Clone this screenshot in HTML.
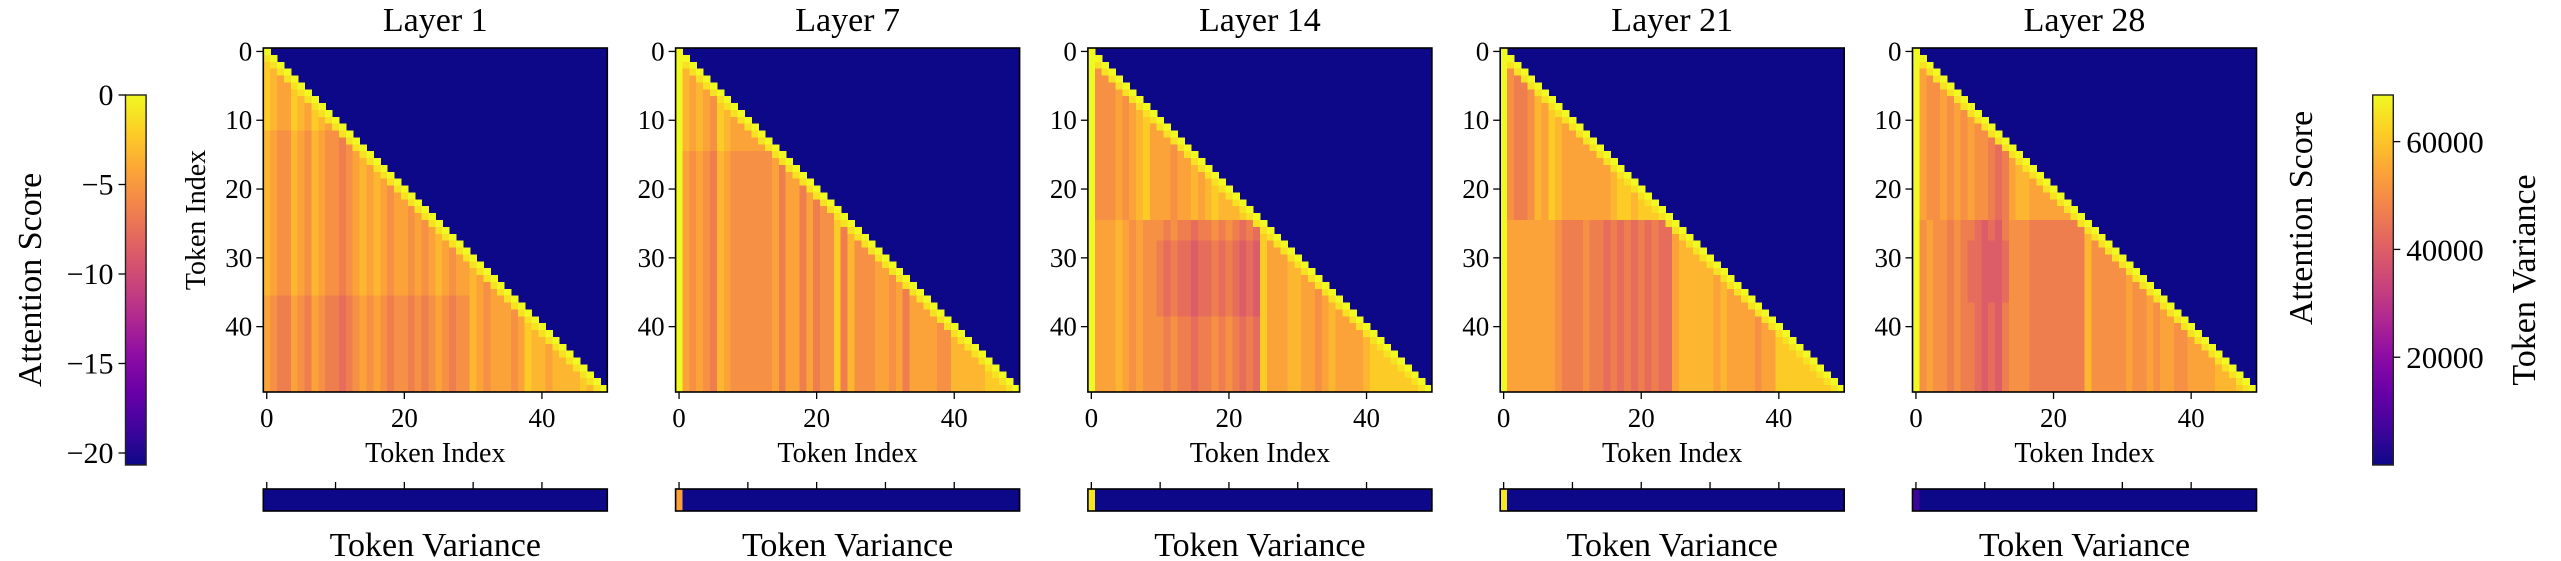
<!DOCTYPE html>
<html><head><meta charset="utf-8"><style>
html,body{margin:0;padding:0;background:#fff;}
svg{display:block;font-family:"Liberation Serif",serif;}
</style></head><body>
<svg id="fig" width="2561" height="561" viewBox="0 0 2561 561" xmlns="http://www.w3.org/2000/svg"></svg>
<script>
// ---- data ----
const layerTitles = ["Layer 1","Layer 7","Layer 14","Layer 21","Layer 28"];
const attnTicks = [0,-5,-10,-15,-20];
const varTicks = [20000,40000,60000];
const tokenTicksY = [0,10,20,30,40];
const tokenTicksX = [0,20,40];
const attnMin = -20.67, attnMax = 0;
const varMin = 0, varMax = 68650;
const levelStep = 1.1; // attention score per digit level (value = -level*step)
const attnRows1 = ["0","10","210","2310","23410","234410","2344210","23442310","234423410","2344234210","23442342310","234423423410","3455345345510","34553453455610","345534534556510","3455345345565410","34553453455654310","345534534556543410","3455345345565434310","34553453455654343410","345534534556543434510","3455345345565434345410","34553453455654343454410","345534534556543434544510","3455345345565434345445410","34553453455654343454454510","345534534556543434544545410","3455345345565434345445454310","34553453455654343454454543410","345534534556543434544545434510","3455345345565434345445454345410","34553453455654343454454543454410","345534534556543434544545434544310","3455345345565434345445454345443410","34553453455654343454454543454434510","345534534556543434544545434544345410","4566456456676545456556565456553454410","45664564566765454565565654565534544410","456645645667654545655656545655345444510","4566456456676545456556565456553454445410","45664564566765454565565654565534544454210","456645645667654545655656545655345444542310","4566456456676545456556565456553454445423310","45664564566765454565565654565534544454233410","456645645667654545655656545655345444542334310","4566456456676545456556565456553454445423343310","45664564566765454565565654565534544454233433310","456645645667654545655656545655345444542334333310","4566456456676545456556565456553454445423343333210","45664564566765454565565654565534544454233433332310"];
const attnRows7 = ["0","00","010","0310","03410","034310","0343410","03434510","034345210","0343452310","03434523410","034345234410","0343452344410","03434523444410","034345234444410","0454563455555510","04545634555555410","045456345555554610","0454563455555546410","04545634555555464410","045456345555554644610","0454563455555546446410","04545634555555464464610","045456345555554644646510","0454563455555546446465510","04545634555555464464655210","045456345555554644646552610","0454563455555546446465526310","04545634555555464464655263510","045456345555554644646552635510","0454563455555546446465526355510","04545634555555464464655263555410","045456345555554644646552635554410","0454563455555546446465526355544510","04545634555555464464655263555445410","045456345555554644646552635554454610","0454563455555546446465526355544546410","04545634555555464464655263555445464410","045456345555554644646552635554454644410","0454563455555546446465526355544546444410","04545634555555464464655263555445464444510","045456345555554644646552635554454644445510","0454563455555546446465526355544546444455310","04545634555555464464655263555445464444553310","045456345555554644646552635554454644445533310","0454563455555546446465526355544546444455333310","04545634555555464464655263555445464444553333310","045456345555554644646552635554454644445533333210","0454563455555546446465526355544546444455333332210","04545634555555464464655263555445464444553333322210"];
const attnRows14 = ["0","00","010","0510","05510","055510","0555410","05554510","055545410","0555454310","05554543210","055545432410","0555454324410","05554543244410","055545432444510","0555454324445410","05554543244454410","055545432444544310","0555454324445443410","05554543244454434310","055545432444544343210","0555454324445443432310","05554543244454434323310","055545432444544343233310","0555454324445443432333210","04443454555656676656567610","044434545556566766565676710","0444345455565667665656767210","04443454556767787767678782410","044434545567677877676787824410","0444345455676778776767878244410","04443454556767787767678782444310","044434545567677877676787824443310","0444345455676778776767878244433410","04443454556767787767678782444334410","044434545567677877676787824443344510","0444345455676778776767878244433445410","04443454556767787767678782444334454310","044434545567677877676787824443344543410","0444345455565667665656767244433445434410","04443454555656676656567672444334454344410","044434545556566766565676724443344543444410","0444345455565667665656767244433445434444310","04443454555656676656567672444334454344443210","044434545556566766565676724443344543444432210","0444345455565667665656767244433445434444322210","04443454555656676656567672444334454344443222210","044434545556566766565676724443344543444432222210","0444345455565667665656767244433445434444322222210","04443454555656676656567672444334454344443222222210"];
const attnRows21 = ["0","00","010","0510","05610","056610","0566510","05665310","056653410","0566534210","05665342310","056653423410","0566534234410","05665342344410","056653423444410","0566534234444410","05665342344444410","056653423444444410","0566534234444444310","05665342344444443210","056653423444444432210","0566534234444444322310","05665342344444443223210","056653423444444432232210","0566534234444444322322210","04444444566656676767676710","044444445666566767676767710","0444444456665667676767677410","04444444566656676767676774310","044444445666566767676767743310","0444444456665667676767677433310","04444444566656676767676774333310","044444445666566767676767743333310","0444444456665667676767677433333410","04444444566656676767676774333334310","044444445666566767676767743333343410","0444444456665667676767677433333434410","04444444566656676767676774333334344410","044444445666566767676767743333343444410","0444444456665667676767677433333434444510","04444444566656676767676774333334344445410","044444445666566767676767743333343444454410","0444444456665667676767677433333434444544210","04444444566656676767676774333334344445442210","044444445666566767676767743333343444454422210","0444444456665667676767677433333434444544222210","04444444566656676767676774333334344445442222210","044444445666566767676767743333343444454422222210","0444444456665667676767677433333434444544222222210","04444444566656676767676774333334344445442222222210"];
const attnRows28 = ["0","00","010","0410","04510","045510","0455410","04554510","045545410","0455454510","04554545410","045545454510","0455454545510","04554545455610","045545454556710","0455454545567610","04554545455676410","045545454556764310","0455454545567643310","04554545455676433410","045545454556764334410","0455454545567643344410","04554545455676433444410","045545454556764334444410","0455454545567643344444410","05455656678786555666666610","054556566787865556666666610","0545565667878655566666666310","05455656778887555666666663510","054556567788875556666666635510","0545565677888755566666666355510","05455656778887555666666663555510","054556567788875556666666635555510","0545565677888755566666666355555410","05455656778887555666666663555554510","054556567788875556666666635555545510","0545565677888755566666666355555455410","05455656678786555666666663555554554510","054556566787865556666666635555545545410","0545565667878655566666666355555455454410","05455656678786555666666663555554554544510","054556566787865556666666635555545545445510","0545565667878655566666666355555455454455410","05455656678786555666666663555554554544554410","054556566787865556666666635555545545445544410","0545565667878655566666666355555455454455444410","05455656678786555666666663555554554544554444310","054556566787865556666666635555545545445544443310","0545565667878655566666666355555455454455444433310","05455656678786555666666663555554554544554444333210"];
const variance1 = [0,0,0,0,0,0,0,0,0,0,0,0,0,0,0,0,0,0,0,0,0,0,0,0,0,0,0,0,0,0,0,0,0,0,0,0,0,0,0,0,0,0,0,0,0,0,0,0,0,0];
const variance7 = [54000,0,0,0,0,0,0,0,0,0,0,0,0,0,0,0,0,0,0,0,0,0,0,0,0,0,0,0,0,0,0,0,0,0,0,0,0,0,0,0,0,0,0,0,0,0,0,0,0,0];
const variance14 = [66000,0,0,0,0,0,0,0,0,0,0,0,0,0,0,0,0,0,0,0,0,0,0,0,0,0,0,0,0,0,0,0,0,0,0,0,0,0,0,0,0,0,0,0,0,0,0,0,0,0];
const variance21 = [66000,0,0,0,0,0,0,0,0,0,0,0,0,0,0,0,0,0,0,0,0,0,0,0,0,0,0,0,0,0,0,0,0,0,0,0,0,0,0,0,0,0,0,0,0,0,0,0,0,0];
const variance28 = [6000,0,0,0,0,0,0,0,0,0,0,0,0,0,0,0,0,0,0,0,0,0,0,0,0,0,0,0,0,0,0,0,0,0,0,0,0,0,0,0,0,0,0,0,0,0,0,0,0,0];

const allRows = [attnRows1, attnRows7, attnRows14, attnRows21, attnRows28];
const allVar = [variance1, variance7, variance14, variance21, variance28];

// ---- helpers ----
const NS = "http://www.w3.org/2000/svg";
const svg = document.getElementById("fig");
const plasma = ["#0d0887","#41049d","#6a00a8","#8f0da4","#b12a90","#cc4778","#e16462","#f2844b","#fca636","#fcce25","#f0f921"];
function hex(h){return [parseInt(h.substr(1,2),16),parseInt(h.substr(3,2),16),parseInt(h.substr(5,2),16)];}
const plasmaRGB = plasma.map(hex);
function cmap(t){
  t = Math.max(0, Math.min(1, t));
  const p = t*10, i = Math.min(9, Math.floor(p)), f = p - i;
  const a = plasmaRGB[i], b = plasmaRGB[i+1];
  return "rgb(" + [0,1,2].map(k => Math.round(a[k]+(b[k]-a[k])*f)).join(",") + ")";
}
function el(tag, attrs, parent){
  const e = document.createElementNS(NS, tag);
  for (const k in attrs) e.setAttribute(k, attrs[k]);
  (parent || svg).appendChild(e);
  return e;
}
function txt(s, attrs, parent){ const t = el("text", attrs, parent); t.textContent = s; return t; }

// ---- layout ----
const axTop = 48, axSize = 344, nTok = 50;
const cell = axSize / nTok;
const axLeft = i => 263.3 + 412.3 * i;
const stripTop = 489, stripH = 22;

layerTitles.forEach((title, li) => {
  const L = axLeft(li);
  const g = el("g", {});
  
  
  const xs = j => L + j * cell;
  const ys = i => axTop + i * cell;
  const hm = el("g", {"shape-rendering":"crispEdges"}, g);
  
  
  const bg = el("rect", {x:L, y:axTop, width:axSize, height:axSize, fill:cmap(0)}, hm);
  
  
  const rows = allRows[li];
  for (let i = 0; i < nTok; i++) {
    const r = rows[i] || "";
    for (let j = 0; j <= i; j++) {
      const lvl = j < r.length ? +r[j] : 1;
      const v = -lvl * levelStep;
      const c = el("rect", {x:xs(j), y:ys(i), width:cell+0.6, height:cell+0.6, fill:cmap((v-attnMin)/(attnMax-attnMin))}, hm);
      
      
    }
  }
  const fr = el("rect", {x:L, y:axTop, width:axSize, height:axSize, fill:"none", stroke:"#000", "stroke-width":1.6}, g);
  
  
  const tt = txt(title, {x:L+axSize/2, y:31, "text-anchor":"middle", "font-size":34}, g);
  
  
  tokenTicksY.forEach(t => {
    const y = ys(t + 0.5);
    const tk = el("line", {x1:L-7, x2:L, y1:y, y2:y, stroke:"#000", "stroke-width":1.3}, g);
    
    
    const tl = txt(String(t), {x:L-11, y:y+9, "text-anchor":"end", "font-size":27}, g);
    
    
  });
  tokenTicksX.forEach(t => {
    const x = xs(t + 0.5);
    const tk = el("line", {x1:x, x2:x, y1:axTop+axSize, y2:axTop+axSize+7, stroke:"#000", "stroke-width":1.3}, g);
    
    
    const tl = txt(String(t), {x:x, y:427, "text-anchor":"middle", "font-size":27}, g);
    
    
  });
  const xl = txt("Token Index", {x:L+axSize/2, y:462, "text-anchor":"middle", "font-size":28}, g);
  
  
  if (li === 0) {
    const yl = txt("Token Index", {x:0, y:0, "text-anchor":"middle", "font-size":28, transform:"translate(205,220) rotate(-90)"}, g);
    
    
  }
  const sg = el("g", {"shape-rendering":"crispEdges"}, g);
  
  
  allVar[li].forEach((v, j) => {
    const c = el("rect", {x:xs(j), y:stripTop, width:cell+0.6, height:stripH, fill:cmap((v-varMin)/(varMax-varMin))}, sg);
    
    
  });
  const sf = el("rect", {x:L, y:stripTop, width:axSize, height:stripH, fill:"none", stroke:"#000", "stroke-width":1.6}, g);
  
  
  tokenTicksY.forEach(t => {
    const x = xs(t + 0.5);
    const tk = el("line", {x1:x, x2:x, y1:stripTop-7, y2:stripTop, stroke:"#000", "stroke-width":1.3}, g);
    
    
  });
  const sl = txt("Token Variance", {x:L+axSize/2, y:556, "text-anchor":"middle", "font-size":34}, g);
  
  
});

// ---- colorbars ----
const defs = el("defs", {});
const grad = el("linearGradient", {id:"plasmaGrad", x1:"0", y1:"1", x2:"0", y2:"0"}, defs);
plasma.forEach((c, i) => el("stop", {offset:(i*10)+"%", "stop-color":c}, grad));

const cbTop = 95, cbBot = 465;
const lcb = el("g", {});


const lcx = 125.5, cbw = 20.6;
el("rect", {x:lcx, y:cbTop, width:cbw, height:cbBot-cbTop, fill:"url(#plasmaGrad)", stroke:"#222", "stroke-width":1.4}, lcb);
const ay = v => cbBot - (v - attnMin) / (attnMax - attnMin) * (cbBot - cbTop);
attnTicks.forEach(t => {
  const y = ay(t);
  const tk = el("line", {x1:lcx-7, x2:lcx, y1:y, y2:y, stroke:"#000", "stroke-width":1.3}, lcb);
  
  
  const lab = t < 0 ? "\u2212" + Math.abs(t) : String(t);
  const tl = txt(lab, {x:lcx-12, y:y+10, "text-anchor":"end", "font-size":30}, lcb);
  
  
});
const lt = txt("Attention Score", {x:0, y:0, "text-anchor":"middle", "font-size":34, transform:"translate(41,280) rotate(-90)"}, lcb);



const rcb = el("g", {});


const rcx = 2372.7;
el("rect", {x:rcx, y:cbTop, width:cbw, height:cbBot-cbTop, fill:"url(#plasmaGrad)", stroke:"#222", "stroke-width":1.4}, rcb);
const vy = v => cbBot - (v - varMin) / (varMax - varMin) * (cbBot - cbTop);
varTicks.forEach(t => {
  const y = vy(t);
  const tk = el("line", {x1:rcx+cbw, x2:rcx+cbw+7, y1:y, y2:y, stroke:"#000", "stroke-width":1.3}, rcb);
  
  
  const tl = txt(String(t), {x:rcx+cbw+13, y:y+11, "text-anchor":"start", "font-size":31}, rcb);
  
  
});
const rt1 = txt("Attention Score", {x:0, y:0, "text-anchor":"middle", "font-size":34, transform:"translate(2312,218) rotate(-90)"}, rcb);


const rt2 = txt("Token Variance", {x:0, y:0, "text-anchor":"middle", "font-size":34, transform:"translate(2535,280) rotate(-90)"}, rcb);


</script>
</body></html>
